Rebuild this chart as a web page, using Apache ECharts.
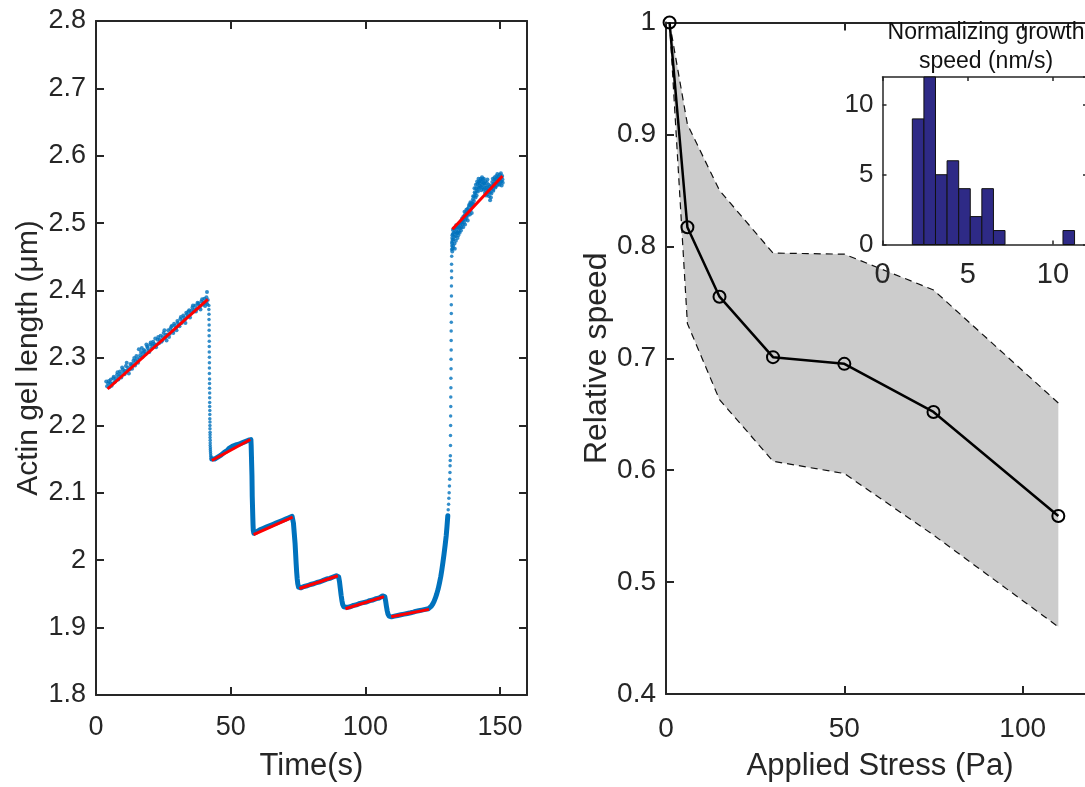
<!DOCTYPE html>
<html>
<head>
<meta charset="utf-8">
<script src="https://cdn.jsdelivr.net/npm/echarts@6/dist/echarts.min.js"></script>
<style>
html,body{margin:0;padding:0;background:#fff;overflow:hidden;}
#chart{width:1100px;height:787px;}
</style>
</head>
<body>
<div id="chart"></div>
<script>
// ---------- LEFT PANEL DATA (Time s, Actin gel length um) ----------
// Phase 1: noisy growth before first stress step (two interleaved reads of the dot cloud)
const phase1Time = [3.8,4.5,5.0,5.5,6.1,6.6,7.2,7.8,8.3,8.9,9.4,10.0,10.6,11.1,11.7,12.2,12.8,13.4,13.9,14.5,15.0,15.6,16.2,16.7,17.3,17.8,18.4,19.0,19.5,20.1,20.6,21.2,21.8,22.3,22.9,23.4,24.0,24.6,25.1,25.7,26.2,26.8,27.4,27.9,28.5,29.0,29.6,30.2,30.7,31.3,31.8,32.4,33.0,33.5,34.1,34.6,35.2,35.8,36.3,36.9,37.4,38.0,38.6,39.1,39.7,40.2,40.8,41.2,41.5];
const phase1Length = [2.265,2.262,2.257,2.268,2.262,2.272,2.266,2.275,2.268,2.280,2.271,2.283,2.276,2.288,2.282,2.277,2.291,2.284,2.296,2.289,2.303,2.293,2.300,2.309,2.302,2.312,2.306,2.317,2.311,2.320,2.314,2.324,2.319,2.316,2.327,2.322,2.333,2.326,2.337,2.330,2.326,2.341,2.336,2.346,2.340,2.351,2.344,2.355,2.349,2.358,2.352,2.363,2.357,2.367,2.362,2.371,2.366,2.375,2.369,2.378,2.373,2.381,2.376,2.384,2.379,2.388,2.382,2.398,2.386];
const phase1bTime = [4.1,4.8,5.3,5.8,6.4,6.9,7.5,8.0,8.6,9.1,9.7,10.3,10.8,11.4,11.9,12.5,13.1,13.6,14.2,14.7,15.3,15.9,16.4,17.0,17.5,18.1,18.7,19.2,19.8,20.3,20.9,21.5,22.0,22.6,23.1,23.7,24.3,24.8,25.4,25.9,26.5,27.1,27.6,28.2,28.7,29.3,29.9,30.4,31.0,31.5,32.1,32.7,33.2,33.8,34.3,34.9,35.5,36.0,36.6,37.1,37.7,38.3,38.8,39.4,39.9,40.5,41.0,41.3];
const phase1bLength = [2.258,2.266,2.263,2.259,2.270,2.264,2.270,2.279,2.273,2.276,2.286,2.279,2.281,2.293,2.286,2.283,2.289,2.291,2.300,2.295,2.298,2.313,2.304,2.315,2.307,2.310,2.320,2.315,2.309,2.323,2.318,2.321,2.329,2.320,2.331,2.327,2.324,2.331,2.341,2.334,2.335,2.331,2.343,2.348,2.337,2.348,2.341,2.352,2.347,2.361,2.355,2.360,2.352,2.365,2.369,2.360,2.370,2.378,2.372,2.369,2.382,2.378,2.372,2.387,2.382,2.377,2.390,2.380];
// First fast drop (sparse dots)
const drop1Time = [41.9,41.9,41.95,41.95,42.0,42.0,42.0,42.05,42.05,42.05,42.1,42.1,42.1,42.1,42.15,42.15,42.15,42.2,42.2,42.2,42.2,42.25,42.25,42.25,42.3,42.3,42.3,42.35,42.35,42.35,42.4,42.4,42.4,42.45,42.45,42.5,42.55,42.6,42.7,42.8];
const drop1Length = [2.378,2.372,2.365,2.357,2.349,2.341,2.333,2.325,2.317,2.309,2.301,2.293,2.285,2.277,2.269,2.262,2.255,2.248,2.241,2.234,2.228,2.222,2.216,2.210,2.205,2.200,2.195,2.190,2.186,2.182,2.178,2.174,2.170,2.167,2.164,2.161,2.158,2.155,2.153,2.151];
// Dense trace: stepped plateaus and lower part of the recovery
const traceTime = [43.0,43.5,44.0,44.6,45.2,45.8,46.4,47.0,47.6,48.2,48.8,49.4,50.0,50.6,51.2,51.8,52.4,53.0,53.6,54.2,54.8,55.4,56.0,56.6,57.2,57.5,
 57.6,57.7,57.8,57.9,57.95,58.0,58.1,58.2,58.3,58.4,58.6,
 59.0,59.6,60.2,60.8,61.4,62.0,62.6,63.2,63.8,64.4,65.0,65.6,66.2,66.8,67.4,68.0,68.6,69.2,69.8,70.4,71.0,71.6,72.2,72.8,73.1,
 73.3,73.6,73.9,74.1,74.3,74.5,74.7,74.9,75.2,75.5,
 76.0,76.6,77.2,77.8,78.4,79.0,79.6,80.2,80.8,81.4,82.0,82.6,83.2,83.8,84.4,85.0,85.6,86.2,86.8,87.4,88.0,88.6,89.2,89.8,
 90.1,90.4,90.7,91.0,91.3,91.6,92.0,92.6,
 93.2,93.8,94.4,95.0,95.6,96.2,96.8,97.4,98.0,98.6,99.2,99.8,100.4,101.0,101.6,102.2,102.8,103.4,104.0,104.6,105.2,105.8,106.4,106.9,
 107.2,107.5,107.8,108.1,108.4,108.8,109.3,109.7,
 110.2,110.8,111.4,112.0,112.6,113.2,113.8,114.4,115.0,115.6,116.2,116.8,117.4,117.8,118.6,119.2,119.8,120.4,121.0,121.6,122.2,122.8,123.4,
 124.0,124.5,125.0,125.5,126.0,126.5,127.0,127.5,128.0,128.4,128.8,129.2,129.6,130.0,130.3,130.6];
const traceLength = [2.150,2.152,2.150,2.151,2.153,2.152,2.156,2.158,2.160,2.162,2.163,2.166,2.167,2.169,2.170,2.171,2.170,2.172,2.173,2.174,2.175,2.176,2.177,2.178,2.180,2.179,
 2.170,2.155,2.140,2.125,2.110,2.095,2.080,2.065,2.052,2.044,2.040,
 2.041,2.042,2.043,2.045,2.046,2.047,2.048,2.049,2.050,2.051,2.052,2.053,2.054,2.055,2.056,2.057,2.058,2.059,2.060,2.061,2.062,2.063,2.064,2.065,2.065,
 2.055,2.040,2.025,2.010,1.995,1.982,1.972,1.965,1.960,1.958,
 1.959,1.960,1.961,1.961,1.962,1.963,1.964,1.965,1.965,1.966,1.967,1.968,1.968,1.969,1.970,1.971,1.972,1.972,1.973,1.974,1.975,1.976,1.977,1.978,
 1.975,1.968,1.958,1.948,1.940,1.934,1.931,1.929,
 1.930,1.931,1.931,1.932,1.933,1.933,1.934,1.935,1.936,1.936,1.937,1.938,1.938,1.939,1.940,1.941,1.941,1.942,1.943,1.944,1.944,1.945,1.947,1.948,
 1.946,1.940,1.932,1.925,1.920,1.917,1.916,1.916,
 1.917,1.917,1.918,1.918,1.919,1.919,1.920,1.920,1.921,1.921,1.922,1.922,1.923,1.923,1.924,1.924,1.925,1.925,1.926,1.926,1.927,1.927,1.928,
 1.929,1.932,1.935,1.939,1.944,1.950,1.957,1.966,1.976,1.986,1.997,2.009,2.022,2.036,2.050,2.066];
// Fast recovery after stress release (sparse dots)
const riseTime = [130.75,130.9,131.0,131.1,131.2,131.3,131.4,131.45,131.5,131.55,131.6,131.6,131.65,131.65,131.7,131.7,131.75,131.75,131.8,131.8,131.85,131.85,131.85,131.9,131.9,131.9,131.95,131.95,132.0,132.0,132.0,132.05,132.05,132.1,132.1,132.15];
const riseLength = [2.075,2.083,2.092,2.100,2.110,2.120,2.130,2.140,2.148,2.155,2.170,2.185,2.200,2.214,2.228,2.242,2.256,2.270,2.284,2.298,2.312,2.326,2.340,2.353,2.366,2.379,2.392,2.407,2.419,2.429,2.439,2.451,2.461,2.466,2.472,2.478];
// Final noisy growth phase (two interleaved reads of the dot cloud)
const phase7Time = [132.2,132.3,132.4,132.5,132.7,132.9,133.1,133.3,133.5,133.7,133.9,134.2,134.4,134.6,134.9,135.1,135.4,135.6,135.9,136.1,136.4,136.6,136.9,137.1,137.4,137.6,137.9,138.1,138.4,138.6,138.9,139.1,139.4,139.6,139.9,140.1,140.4,140.6,140.9,141.1,141.4,141.6,141.9,142.1,142.4,142.6,142.9,143.1,143.4,143.6,143.9,144.1,144.4,144.6,144.9,145.1,145.4,145.6,145.9,146.1,146.4,146.6,146.9,147.1,147.4,147.6,147.9,148.1,148.4,148.6,148.9,149.1,149.4,149.6,149.9,150.1,150.4,150.6,150.9];
const phase7Length = [2.470,2.482,2.463,2.490,2.476,2.486,2.470,2.493,2.481,2.497,2.485,2.478,2.496,2.488,2.500,2.492,2.503,2.494,2.507,2.498,2.510,2.501,2.512,2.505,2.516,2.508,2.521,2.512,2.524,2.517,2.528,2.520,2.530,2.524,2.535,2.528,2.540,2.546,2.538,2.552,2.548,2.558,2.553,2.561,2.556,2.563,2.554,2.562,2.557,2.565,2.550,2.559,2.545,2.556,2.548,2.560,2.543,2.552,2.540,2.555,2.546,2.538,2.553,2.561,2.550,2.558,2.565,2.555,2.562,2.570,2.560,2.567,2.558,2.564,2.572,2.561,2.568,2.556,2.565];
const phase7bTime = [132.25,132.35,132.45,132.6,132.8,133.0,133.2,133.4,133.6,133.8,134.0,134.3,134.5,134.8,135.0,135.3,135.5,135.8,136.0,136.3,136.5,136.8,137.0,137.3,137.5,137.8,138.0,138.3,138.5,138.8,139.0,139.3,139.5,139.8,140.0,140.3,140.5,140.8,141.0,141.3,141.5,141.8,142.0,142.3,142.5,142.8,143.0,143.3,143.5,143.8,144.0,144.3,144.5,144.8,145.0,145.3,145.5,145.8,146.0,146.3,146.5,146.8,147.0,147.3,147.5,147.8,148.0,148.3,148.5,148.8,149.0,149.3,149.5,149.8,150.0,150.3,150.5,150.8,151.0];
const phase7bLength = [2.458,2.475,2.484,2.466,2.492,2.480,2.462,2.487,2.474,2.491,2.494,2.486,2.482,2.494,2.486,2.498,2.489,2.501,2.504,2.494,2.506,2.517,2.498,2.510,2.520,2.514,2.504,2.518,2.527,2.513,2.531,2.526,2.515,2.529,2.540,2.533,2.552,2.544,2.557,2.541,2.562,2.547,2.566,2.552,2.559,2.566,2.549,2.568,2.553,2.560,2.566,2.552,2.562,2.541,2.553,2.565,2.548,2.557,2.546,2.534,2.551,2.544,2.556,2.566,2.548,2.559,2.568,2.553,2.565,2.556,2.573,2.562,2.569,2.557,2.566,2.574,2.562,2.570,2.560];
// Linear fits (red): start time, start length, end time, end length
const fitStartTime   = [4.3, 43.0, 58.5, 75.5, 92.6, 109.6, 132.3];
const fitStartLength = [2.254, 2.148, 2.038, 1.958, 1.928, 1.916, 2.491];
const fitEndTime     = [41.5, 57.3, 73.0, 89.8, 106.9, 123.6, 150.9];
const fitEndLength   = [2.387, 2.179, 2.064, 1.977, 1.946, 1.927, 2.570];

// ---------- RIGHT PANEL DATA ----------
const stressPa   = [1, 6, 15, 30, 50, 75, 110];
const relSpeed   = [1.0, 0.817, 0.755, 0.701, 0.695, 0.652, 0.559];
const upperBound = [1.0, 0.909, 0.850, 0.794, 0.793, 0.761, 0.660];
const lowerBound = [1.0, 0.731, 0.663, 0.608, 0.597, 0.542, 0.460];

// ---------- INSET HISTOGRAM ----------
const binEdges  = [1.75, 2.43, 3.11, 3.79, 4.47, 5.15, 5.83, 6.51, 7.19, 7.87, 8.55, 9.23, 9.91, 10.59, 11.27];
const binCounts = [9, 12, 5, 6, 4, 2, 4, 1, 0, 0, 0, 0, 0, 1];

// ---------- titles ----------
const leftXName = 'Time(s)';
const leftYName = 'Actin gel length (\u03bcm)';
const rightXName = 'Applied Stress (Pa)';
const rightYName = 'Relative speed';
const insetTitle = 'Normalizing growth\nspeed (nm/s)';

const FONT = "'Liberation Sans', Arial, Helvetica, sans-serif";
const AX = '#262626';
const BLUE = '#0072BD';

const zip = (a, b) => a.map((v, i) => [v, b[i]]);

function axisBase(extra) {
  return Object.assign({
    type: 'value',
    axisLine: { show: true, onZero: false, lineStyle: { color: AX, width: 2 } },
    axisTick: { show: true, inside: true, length: 8, lineStyle: { color: AX, width: 2 } },
    splitLine: { show: false },
    axisLabel: { show: false }
  }, extra);
}
function labels(size, margin, extra) {
  return Object.assign({ show: true, fontSize: size, fontFamily: FONT, color: AX, margin: margin }, extra || {});
}
const insetLine = { show: true, onZero: false, lineStyle: { color: AX, width: 1.5 } };
const insetTick = { show: true, inside: true, length: 4, lineStyle: { color: AX, width: 1.5 } };

const chart = echarts.init(document.getElementById('chart'), null, { renderer: 'canvas' });

const grids = [
  { left: 96, top: 21, width: 431, height: 678 },
  { left: 666, top: 22.5, width: 428, height: 680 },
  { left: 882.5, top: 77, width: 204.5, height: 167.5, show: true, backgroundColor: '#fff', borderWidth: 0, z: 5 }
];

const xAxes = [
  axisBase({ gridIndex: 0, position: 'bottom', min: 0, max: 160, interval: 50,
    axisLabel: labels(27, 19, { showMaxLabel: false }),
    name: leftXName, nameLocation: 'middle', nameGap: 56,
    nameTextStyle: { fontSize: 31, fontFamily: FONT, color: AX } }),
  axisBase({ gridIndex: 0, position: 'top', min: 0, max: 160, interval: 50 }),
  axisBase({ gridIndex: 1, position: 'bottom', min: 0, max: 120, interval: 50,
    axisLabel: labels(28, 21, { showMaxLabel: false }),
    name: rightXName, nameLocation: 'middle', nameGap: 57,
    nameTextStyle: { fontSize: 31, fontFamily: FONT, color: AX } }),
  axisBase({ gridIndex: 1, position: 'top', min: 0, max: 120, interval: 50 }),
  axisBase({ gridIndex: 2, position: 'bottom', min: 0, max: 12, interval: 5, z: 6,
    axisLine: insetLine, axisTick: insetTick,
    axisLabel: labels(29, 16, { showMaxLabel: false }) }),
  axisBase({ gridIndex: 2, position: 'top', min: 0, max: 12, interval: 5, z: 6,
    axisLine: insetLine, axisTick: insetTick })
];

const yAxes = [
  axisBase({ gridIndex: 0, position: 'left', min: 1.8, max: 2.8, interval: 0.1,
    axisLabel: labels(27, 10),
    name: leftYName, nameLocation: 'middle', nameGap: 52, nameRotate: 90,
    nameTextStyle: { fontSize: 30, fontFamily: FONT, color: AX } }),
  axisBase({ gridIndex: 0, position: 'right', min: 1.8, max: 2.8, interval: 0.1 }),
  axisBase({ gridIndex: 1, position: 'left', min: 0.4, max: 1, interval: 0.1,
    axisLabel: labels(28, 10),
    name: rightYName, nameLocation: 'middle', nameGap: 52, nameRotate: 90,
    nameTextStyle: { fontSize: 32, fontFamily: FONT, color: AX } }),
  axisBase({ gridIndex: 1, position: 'right', min: 0.4, max: 1, interval: 0.1 }),
  axisBase({ gridIndex: 2, position: 'left', min: 0, max: 12, interval: 5, z: 6,
    axisLine: insetLine, axisTick: insetTick,
    axisLabel: labels(26, 9, { showMaxLabel: false }) }),
  axisBase({ gridIndex: 2, position: 'right', min: 0, max: 12, interval: 5, z: 6,
    axisLine: insetLine, axisTick: insetTick })
];

const series = [];
// left panel
series.push({ type: 'line', xAxisIndex: 0, yAxisIndex: 0, data: zip(traceTime, traceLength),
  showSymbol: false, symbol: 'none', lineStyle: { color: BLUE, width: 5, cap: 'round', join: 'round' }, z: 2 });
[[phase1Time, phase1Length, 4], [phase1bTime, phase1bLength, 4], [drop1Time, drop1Length, 3.5],
 [riseTime, riseLength, 3.5], [phase7Time, phase7Length, 4], [phase7bTime, phase7bLength, 4]].forEach(([t, l, s]) => {
  series.push({ type: 'scatter', xAxisIndex: 0, yAxisIndex: 0, data: zip(t, l), symbolSize: s,
    itemStyle: { color: BLUE }, z: 2 });
});
fitStartTime.forEach((t0, i) => {
  series.push({ type: 'line', xAxisIndex: 0, yAxisIndex: 0,
    data: [[t0, fitStartLength[i]], [fitEndTime[i], fitEndLength[i]]],
    symbol: 'none', lineStyle: { color: '#ff0000', width: 3 }, z: 3 });
});

// right panel: band
series.push({ type: 'custom', xAxisIndex: 2, yAxisIndex: 2,
  data: stressPa.map((s, i) => [s, upperBound[i], lowerBound[i]]),
  encode: { x: 0, y: [1, 2] },
  renderItem: function (params, api) {
    if (params.dataIndex !== 0) return null;
    const pts = [];
    stressPa.forEach((s, i) => pts.push(api.coord([s, upperBound[i]])));
    for (let i = stressPa.length - 1; i >= 0; i--) pts.push(api.coord([stressPa[i], lowerBound[i]]));
    return { type: 'polygon', shape: { points: pts }, style: { fill: '#cccccc', stroke: null } };
  }, z: 1 });
[upperBound, lowerBound].forEach(b => {
  series.push({ type: 'line', xAxisIndex: 2, yAxisIndex: 2, data: zip(stressPa, b), symbol: 'none',
    lineStyle: { color: '#111', width: 1.2, type: [7, 5] }, z: 2 });
});
series.push({ type: 'line', xAxisIndex: 2, yAxisIndex: 2, data: zip(stressPa, relSpeed),
  symbol: 'circle', symbolSize: 12, showAllSymbol: true, clip: false,
  itemStyle: { color: 'rgba(0,0,0,0)', borderColor: '#000', borderWidth: 2 },
  lineStyle: { color: '#000', width: 2.5 }, z: 3 });

// inset histogram
series.push({ type: 'custom', xAxisIndex: 4, yAxisIndex: 4,
  data: binCounts.map((c, i) => [binEdges[i], binEdges[i + 1], c]),
  encode: { x: [0, 1], y: 2 },
  renderItem: function (params, api) {
    const c = api.value(2);
    if (!c) return null;
    const p0 = api.coord([api.value(0), c]);
    const p1 = api.coord([api.value(1), 0]);
    return { type: 'rect', shape: { x: p0[0], y: p0[1], width: p1[0] - p0[0], height: p1[1] - p0[1] },
      style: { fill: '#2e2a86', stroke: '#111', lineWidth: 1 } };
  }, z: 7 });

chart.setOption({
  animation: false,
  backgroundColor: '#fff',
  grid: grids,
  xAxis: xAxes,
  yAxis: yAxes,
  series: series,
  graphic: [{
    type: 'text', x: 986, y: 18, z: 100,
    style: { text: insetTitle, align: 'center', verticalAlign: 'top', fontSize: 23, lineHeight: 29,
      fontFamily: FONT, fill: '#111' }
  }]
});
</script>
</body>
</html>
